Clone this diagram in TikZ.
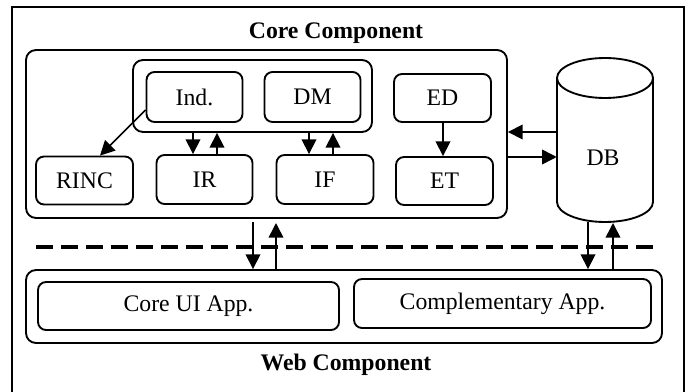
\documentclass[tikz,border=0pt]{standalone}
\usepackage{fontspec}
\setmainfont{Liberation Serif}
\usetikzlibrary{arrows.meta}
\begin{document}
\begin{tikzpicture}[x=0.75pt,y=-0.75pt,
  every node/.style={font=\fontsize{17.8}{21}\selectfont},
  box/.style={draw,line width=1.4pt,rounded corners=6pt,inner sep=0pt},
  grpbox/.style={draw,line width=1.4pt,rounded corners=7.5pt,inner sep=0pt},
  ttl/.style={font=\fontsize{17.8}{21}\selectfont\bfseries},
  arr/.style={line width=1.2pt,-{Triangle[length=11pt,width=11pt]}},
  sep/.style={line width=2.3pt,dash pattern=on 12.75pt off 6pt}
]
\useasboundingbox (0,0) rectangle (692,392);
% outer frame (open at the bottom)
\draw[line width=1.5pt] (11.5,395) -- (11.5,7) -- (684,7) -- (684,395);
% titles
\node[ttl] (tcore) at (336,33) {Core Component};
\node[ttl] (tweb) at (346,365) {Web Component};
% core component
\node[grpbox,minimum width=481*0.75pt,minimum height=168*0.75pt] (core) at (266.5,134) {};
\node[grpbox,minimum width=239*0.75pt,minimum height=72*0.75pt] (grp) at (252.5,96) {};
\node[box,minimum width=96*0.75pt,minimum height=50*0.75pt] (ind) at (194.5,97) {Ind.};
\node[box,minimum width=96*0.75pt,minimum height=50*0.75pt] (dm) at (312.5,97) {DM};
\node[box,minimum width=97*0.75pt,minimum height=48*0.75pt] (ed) at (442.5,98) {ED};
\node[box,minimum width=97*0.75pt,minimum height=48*0.75pt] (rinc) at (84.5,180.5) {RINC};
\node[box,minimum width=96*0.75pt,minimum height=49*0.75pt] (ir) at (204.5,179.5) {IR};
\node[box,minimum width=97*0.75pt,minimum height=49*0.75pt] (if) at (325,179.5) {IF};
\node[box,minimum width=97*0.75pt,minimum height=48*0.75pt] (et) at (444.5,181) {ET};
% database cylinder
\draw[line width=1.4pt] (557,78) -- (557,202)
  arc[start angle=180,end angle=360,x radius=36pt,y radius=15pt] -- (653,78);
\draw[line width=1.4pt] (605,78) ellipse [x radius=36pt,y radius=15pt];
\node[minimum width=96*0.75pt,minimum height=166*0.75pt,inner sep=0pt] (db) at (605,140) {};
\node at (603,158) {DB};
% web component
\node[grpbox,minimum width=636*0.75pt,minimum height=73*0.75pt] (web) at (344,306.5) {};
\node[box,minimum width=301*0.75pt,minimum height=48*0.75pt] (ui) at (188.5,306) {Core UI App.};
\node[box,minimum width=297*0.75pt,minimum height=49*0.75pt] (comp) at (502.5,303.5) {Complementary App.};
% separator
\coordinate (sepL) at (36,247);
\coordinate (sepR) at (660,247);
\draw[sep] (sepL) -- (sepR);
% arrows inside core
\draw[arr] (ind.west |- 0,110) -- (rinc.north -| 100,0);
\draw[arr] (grp.south -| 193,0) -- (ir.north -| 193,0);
\draw[arr] (ir.north -| 217,0) -- (grp.south -| 217,0);
\draw[arr] (grp.south -| 309,0) -- (if.north -| 309,0);
\draw[arr] (if.north -| 333,0) -- (grp.south -| 333,0);
\draw[arr] (ed.south -| 443,0) -- (et.north -| 443,0);
% core <-> db
\draw[arr] (db.west |- 0,132) -- (core.east |- 0,132);
\draw[arr] (core.east |- 0,157) -- (db.west |- 0,157);
% core <-> web
\draw[arr] (253,222) -- (web.north -| 253,0);
\draw[arr] (web.north -| 276,0) -- (276,223);
% db <-> web
\draw[arr] (588,222) -- (web.north -| 588,0);
\draw[arr] (web.north -| 613,0) -- (613,223);
\end{tikzpicture}
\end{document}
